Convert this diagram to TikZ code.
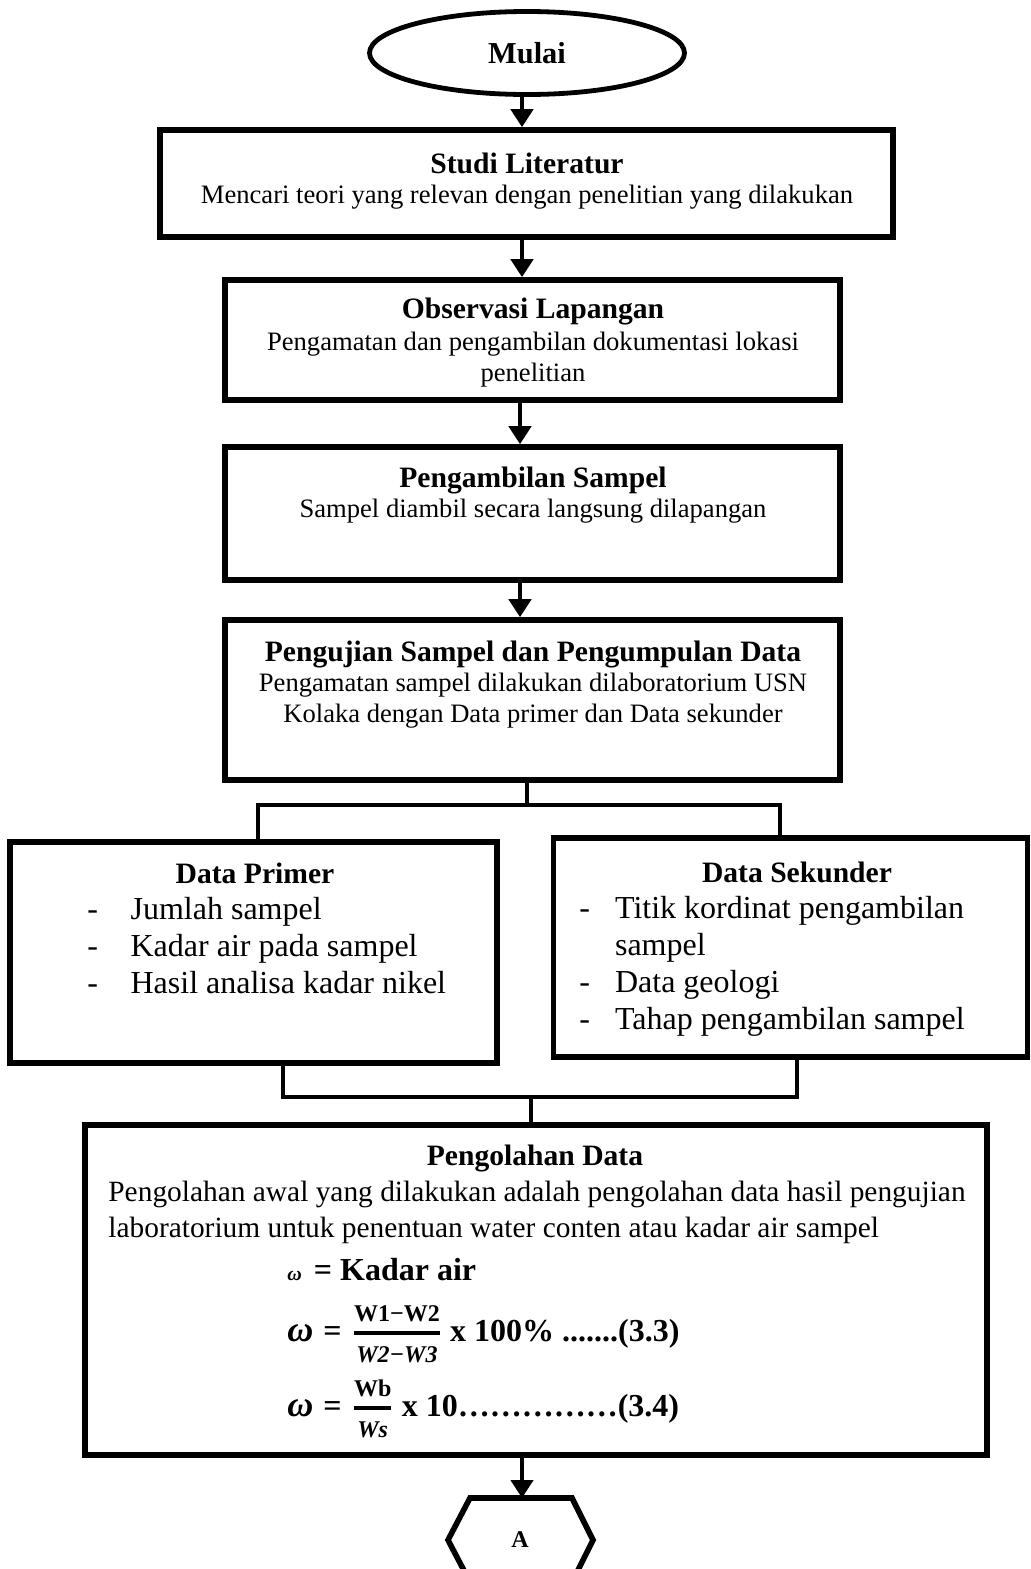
\documentclass[tikz,border=0pt]{standalone}
\usepackage{fontspec}
\setmainfont{Liberation Serif}
\usetikzlibrary{arrows.meta,calc,shapes.geometric}
\begin{document}
\begin{tikzpicture}[x=0.5pt,y=-0.5pt,
  box/.style={draw,line width=2.8pt,inner sep=0pt},
  conn/.style={line width=2.2pt},
  arr/.style={line width=2.2pt,-{Triangle[width=11pt,length=9pt]}},
  ttl/.style={font=\fontsize{14.8}{17}\selectfont\bfseries,inner sep=0pt},
  body/.style={font=\fontsize{13.3}{15.5}\selectfont,align=center,inner sep=0pt},
  lst/.style={font=\fontsize{16}{18.5}\selectfont,inner sep=0pt,anchor=north west},
  frm/.style={font=\fontsize{16}{19}\selectfont\bfseries,inner sep=0pt,anchor=west}]
\useasboundingbox (0,0) rectangle (1030,1569);
\clip (0,0) rectangle (1030,1569);
% boxes
\node[ellipse,draw,line width=2.4pt,minimum width=157.5pt,minimum height=41.5pt,inner sep=0pt] (mulai) at (527,53) {};
\node[box,minimum width=366.5pt,minimum height=53.5pt] (studi) at (526.5,183.5) {};
\node[box,minimum width=307.5pt,minimum height=60pt] (obs) at (532.5,340) {};
\node[box,minimum width=307.5pt,minimum height=66.5pt] (ambil) at (532.5,513.5) {};
\node[box,minimum width=307.5pt,minimum height=80pt] (uji) at (532.5,700) {};
\node[box,minimum width=243.5pt,minimum height=110.5pt] (primer) at (253.5,952.5) {};
\node[box,minimum width=237pt,minimum height=109.5pt] (sekunder) at (790.5,947.5) {};
\node[box,minimum width=451pt,minimum height=165pt] (olah) at (536,1290) {};
% hexagon
\draw[line width=2.8pt,line join=miter] (470,1498) -- (572,1498) -- (593,1540) -- (572,1582) -- (470,1582) -- (448,1540) -- cycle;
\node[font=\fontsize{12}{14}\selectfont\bfseries] (A) at (520,1540) {A};
\coordinate (hextop) at (522,1498);
% texts
\node[font=\fontsize{15.2}{17}\selectfont\bfseries] (tmulai) at (527,53) {Mulai};
\node[ttl] (t1) at (527,163) {Studi Literatur};
\node[body] (b1) at (527,197) {Mencari teori yang relevan dengan penelitian yang dilakukan};
\node[ttl] (t2) at (533,311) {Observasi Lapangan};
\node[body] (b2) at (533,360) {Pengamatan dan pengambilan dokumentasi lokasi\\penelitian};
\node[ttl] (t3) at (533,480) {Pengambilan Sampel};
\node[body] (b3) at (533,511) {Sampel diambil secara langsung dilapangan};
\node[ttl] (t4) at (533,654) {Pengujian Sampel dan Pengumpulan Data};
\node[body] (b4) at (533,701) {Pengamatan sampel dilakukan dilaboratorium USN\\Kolaka dengan Data primer dan Data sekunder};
\node[ttl] (t5) at (255,873) {Data Primer};
\node[lst] (l5) at (87,893.5) {\begin{tabular}{@{}l@{\hspace{16.3pt}}l@{}}-&Jumlah sampel\\-&Kadar air pada sampel\\-&Hasil analisa kadar nikel\end{tabular}};
\node[ttl] (t6) at (797,872) {Data Sekunder};
\node[lst] (l6) at (579,892.5) {\begin{tabular}{@{}l@{\hspace{12.5pt}}l@{}}-&Titik kordinat pengambilan\\&sampel\\-&Data geologi\\-&Tahap pengambilan sampel\end{tabular}};
\node[ttl] (t7) at (535,1158) {Pengolahan Data};
\node[body,align=left,anchor=north west,font=\fontsize{14.7}{18}\selectfont] (b7) at (108,1181) {Pengolahan awal yang dilakukan adalah pengolahan data hasil pengujian\\laboratorium untuk penentuan water conten atau kadar air sampel};
\node[frm] (f0) at (287,1270) {{\fontsize{10}{10}\selectfont\itshape ω}\hspace{6pt}= Kadar air};
\node[frm] (f1) at (287,1334) {{\fontsize{18}{19}\selectfont\itshape ω}\hspace{5pt}=\hspace{5pt}$\textstyle{\hbox{\fontsize{12}{13}\selectfont\bfseries\rule[-3pt]{0pt}{3pt}W1−W2}\above 1.8pt\hbox{\fontsize{12}{13}\selectfont\bfseries\itshape\rule{0pt}{12pt}W2−W3}}$ x 100\% .......(3.3)};
\node[frm] (f2) at (287,1409) {{\fontsize{18}{19}\selectfont\itshape ω}\hspace{5pt}=\hspace{5pt}$\textstyle{\hbox{\fontsize{12}{13}\selectfont\bfseries\rule[-3pt]{0pt}{3pt}Wb}\above 1.8pt\hbox{\fontsize{12}{13}\selectfont\bfseries\itshape\rule{0pt}{12pt}Ws}}$ x 10……………(3.4)};
% connectors
\draw[arr] (mulai.south -| 522,0) -- (522,0 |- studi.north);
\draw[arr] (studi.south -| 522,0) -- (522,0 |- obs.north);
\draw[arr] (obs.south -| 520,0) -- (520,0 |- ambil.north);
\draw[arr] (ambil.south -| 520,0) -- (520,0 |- uji.north);
\coordinate (s1) at (527,805);
\coordinate (sl) at (258,805);
\coordinate (sr) at (780,805);
\draw[conn] (uji.south -| s1) -- (s1);
\draw[conn] (sl |- primer.north) -- (sl) -- (sr) -- (sr |- sekunder.north);
\coordinate (m1) at (531,1097);
\coordinate (ml) at (283,1097);
\coordinate (mr) at (797,1097);
\draw[conn] (ml |- primer.south) -- (ml) -- (mr) -- (mr |- sekunder.south);
\draw[conn] (m1) -- (m1 |- olah.north);
\draw[arr] (olah.south -| hextop) -- (hextop);
\end{tikzpicture}
\end{document}
